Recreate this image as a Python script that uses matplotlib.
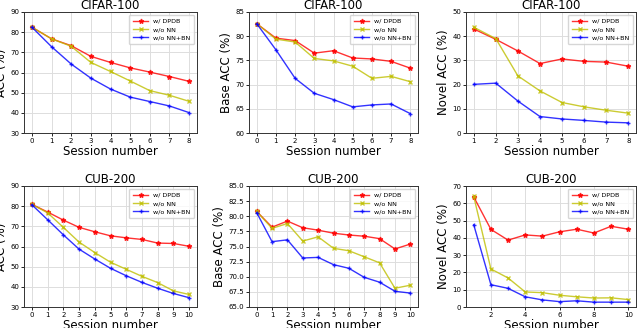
import matplotlib
matplotlib.use('Agg')
from matplotlib import pyplot as plt
import matplotlib.ticker as ticker

labels = ['w/ DPDB', 'w/o NN', 'w/o NN+BN']

# CIFAR-100
cifar_sess = list(range(0, 9))
cifar_acc_dpdb = [82.5, 76.7, 73.3, 68.0, 65.0, 62.3, 60.2, 58.0, 55.6]
cifar_acc_nn = [82.5, 76.7, 73.0, 65.0, 60.5, 55.8, 51.0, 48.7, 45.7]
cifar_acc_nnbn = [82.5, 72.8, 64.2, 57.2, 51.8, 47.8, 45.6, 43.4, 40.1]

cifar_base_dpdb = [82.6, 79.6, 79.1, 76.5, 77.0, 75.5, 75.3, 74.8, 73.4]
cifar_base_nn = [82.6, 79.4, 78.8, 75.4, 74.9, 73.8, 71.3, 71.7, 70.6]
cifar_base_nnbn = [82.6, 77.2, 71.3, 68.2, 66.9, 65.4, 65.8, 66.0, 64.0]

cifar_novel_sess = list(range(1, 9))
cifar_novel_dpdb = [43.0, 38.7, 33.9, 28.7, 30.6, 29.6, 29.3, 27.6]
cifar_novel_nn = [43.7, 39.0, 23.6, 17.4, 12.6, 10.8, 9.4, 8.2]
cifar_novel_nnbn = [20.1, 20.6, 13.2, 6.8, 5.8, 5.2, 4.5, 4.2]

# CUB-200
cub_sess = list(range(0, 11))
cub_acc_dpdb = [80.9, 77.1, 73.1, 69.5, 67.3, 65.3, 64.3, 63.5, 61.7, 61.5, 60.1]
cub_acc_nn = [80.9, 76.7, 69.5, 62.2, 57.0, 52.2, 48.7, 45.2, 42.1, 38.0, 36.2]
cub_acc_nnbn = [80.7, 73.3, 65.8, 58.7, 53.8, 49.2, 45.5, 42.2, 39.3, 36.7, 34.6]

cub_base_dpdb = [80.8, 78.2, 79.2, 78.1, 77.7, 77.2, 76.9, 76.7, 76.3, 74.6, 75.4]
cub_base_nn = [80.8, 78.0, 78.8, 75.9, 76.6, 74.7, 74.3, 73.3, 72.3, 68.1, 68.6]
cub_base_nnbn = [80.6, 75.8, 76.1, 73.1, 73.2, 72.0, 71.4, 69.9, 69.1, 67.6, 67.3]

cub_novel_sess = list(range(1, 11))
cub_novel_dpdb = [63.7, 44.9, 38.7, 41.7, 41.0, 43.5, 45.0, 42.8, 46.7, 45.0]
cub_novel_nn = [64.0, 22.0, 16.8, 8.7, 8.3, 6.8, 5.9, 5.2, 5.3, 4.3]
cub_novel_nnbn = [47.6, 12.9, 10.8, 5.9, 4.1, 3.1, 3.6, 2.8, 2.8, 2.8]

panels = [
    ('CIFAR-100', 'ACC (%)', cifar_sess, [cifar_acc_dpdb, cifar_acc_nn, cifar_acc_nnbn], (30, 90), 10, 1, '%d'),
    ('CIFAR-100', 'Base ACC (%)', cifar_sess, [cifar_base_dpdb, cifar_base_nn, cifar_base_nnbn], (60, 85), 5, 1, '%d'),
    ('CIFAR-100', 'Novel ACC (%)', cifar_novel_sess, [cifar_novel_dpdb, cifar_novel_nn, cifar_novel_nnbn], (0, 50), 10, 1, '%d'),
    ('CUB-200', 'ACC (%)', cub_sess, [cub_acc_dpdb, cub_acc_nn, cub_acc_nnbn], (30, 90), 10, 1, '%d'),
    ('CUB-200', 'Base ACC (%)', cub_sess, [cub_base_dpdb, cub_base_nn, cub_base_nnbn], (65, 85), 2.5, 1, '%.1f'),
    ('CUB-200', 'Novel ACC (%)', cub_novel_sess, [cub_novel_dpdb, cub_novel_nn, cub_novel_nnbn], (0, 70), 10, 2, '%d'),
]

styles = [('r', '*'), ('y', 'x'), ('b', '+')]

fig = plt.figure(figsize=(6.4, 3.28), dpi=100)
# axes boxes in pixels: left/right per column, top/bottom per row
cols = [(24, 197), (249, 418), (466, 636)]
rows = [(12, 133), (186, 307)]
W, H = 640, 328

for i, (title, ylabel, xs, series, ylim, ystep, xstep, fmt) in enumerate(panels):
    l, r = cols[i % 3]
    t, b = rows[i // 3]
    ax = fig.add_axes([l / W, 1 - b / H, (r - l) / W, (b - t) / H])
    for ys, (c, m), lab in zip(series, styles, labels):
        ax.plot(xs, ys, color=c, marker=m, markersize=3.5, linewidth=1.0, alpha=0.8, label=lab)
    ax.set_ylim(*ylim)
    ax.yaxis.set_major_locator(ticker.MultipleLocator(ystep))
    ax.yaxis.set_major_formatter(ticker.FormatStrFormatter(fmt))
    ax.xaxis.set_major_locator(ticker.MultipleLocator(xstep))
    ax.tick_params(labelsize=5, length=2, width=0.6, pad=1.5)
    ax.set_title(title, fontsize=8.5, pad=1.5)
    ax.set_xlabel('Session number', fontsize=8.5, labelpad=1)
    ax.set_ylabel(ylabel, fontsize=8.5, labelpad=1.5)
    ax.grid(color='#dddddd', linewidth=0.7)
    for s in ax.spines.values():
        s.set_linewidth(0.7)
        s.set_color('#333333')
    ax.legend(loc='upper right', fontsize=4.6, handlelength=2.4, borderpad=0.6,
              labelspacing=0.45, borderaxespad=0.4)

plt.savefig('out.png', dpi=100)
